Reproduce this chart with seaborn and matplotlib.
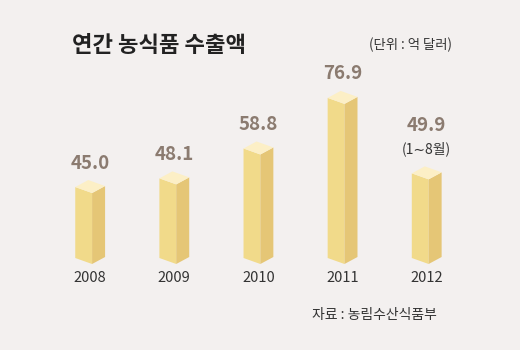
import matplotlib
matplotlib.use("Agg")
import matplotlib.pyplot as plt
import matplotlib.transforms as mtransforms
from matplotlib.patches import Polygon
import seaborn as sns
import pandas as pd

# 연간 농식품 수출액 (억 달러)
years = ['2008', '2009', '2010', '2011', '2012']
values = [45.0, 48.1, 58.8, 76.9, 49.9]
value_labels = ['45.0', '48.1', '58.8', '76.9', '49.9']
note_2012 = '(1∼8월)'

df = pd.DataFrame({'연도': years, '수출액': values})

bg = '#F3F0EF'
front_c = '#F1DA8A'
side_c = '#E5C676'
top_c = '#FCEFC6'

sns.set_style('white')
plt.rcParams['font.family'] = ['Noto Sans CJK KR', 'DejaVu Sans']

fig = plt.figure(figsize=(5.2, 3.5), dpi=100, facecolor=bg)
ax = fig.add_axes([0.08, 0.2457, 0.809, 0.562])
ax.set_facecolor(bg)

sns.barplot(data=df, x='연도', y='수출액', width=0.2, color=front_c, ax=ax)
ax.set_ylim(19.6, 90)
ax.set_xlim(-0.5, 4.5)
sns.despine(ax=ax, left=True, bottom=True)
ax.set_yticks([])
ax.set_xlabel('')
ax.set_ylabel('')
ax.tick_params(axis='x', length=0, pad=5, labelsize=10.5, labelcolor='#333333')

# 입체 막대: 앞면, 옆면, 윗면 (픽셀 오프셋)
sx, sy = 13, 7    # 옆면 깊이
skew = 6          # 앞면 기울기
ident = mtransforms.IdentityTransform()
y0 = ax.get_ylim()[0]
for p in ax.patches:
    p.set_visible(False)
    x_l = p.get_x()
    x_r = x_l + p.get_width()
    top = p.get_height()
    L, B = ax.transData.transform((x_l, y0))
    R, T = ax.transData.transform((x_r, top))
    front = [(L, B + skew), (R, B), (R, T), (L, T + skew)]
    side = [(R, B), (R + sx, B + sy), (R + sx, T + sy), (R, T)]
    lid = [(L, T + skew), (R, T), (R + sx, T + sy), (L + sx, T + skew + sy)]
    for pts, c in [(front, front_c), (side, side_c), (lid, top_c)]:
        ax.add_patch(Polygon(pts, closed=True, facecolor=c, edgecolor='none',
                             transform=ident, clip_on=False))

# x 눈금 라벨은 막대 전체 중앙으로
shift = mtransforms.ScaledTranslation(6.5 / 100, 0, fig.dpi_scale_trans)
for lab in ax.get_xticklabels():
    lab.set_transform(lab.get_transform() + shift)

# 값 라벨
for i, (v, s) in enumerate(zip(values, value_labels)):
    extra = 24 if i == len(values) - 1 else 0
    ax.annotate(s, xy=(i, v), xytext=(6.5, 30 + extra), textcoords='offset pixels',
                ha='center', va='center', fontsize=13.5, fontweight='bold',
                color='#8B7B70')
ax.annotate(note_2012, xy=(len(values) - 1, values[-1]), xytext=(6.5, 31),
            textcoords='offset pixels', ha='center', va='center',
            fontsize=10, color='#333333')

fig.text(72 / 520, 1 - 45 / 350, '연간 농식품 수출액', fontsize=16, fontweight='bold',
         color='#222222', ha='left', va='center')
fig.text(452 / 520, 1 - 45 / 350, '(단위 : 억 달러)', fontsize=9.6,
         color='#333333', ha='right', va='center')
fig.text(312 / 520, 1 - 315 / 350, '자료 : 농림수산식품부', fontsize=10,
         color='#333333', ha='left', va='center')

fig.savefig('out.png', dpi=100, facecolor=bg)
